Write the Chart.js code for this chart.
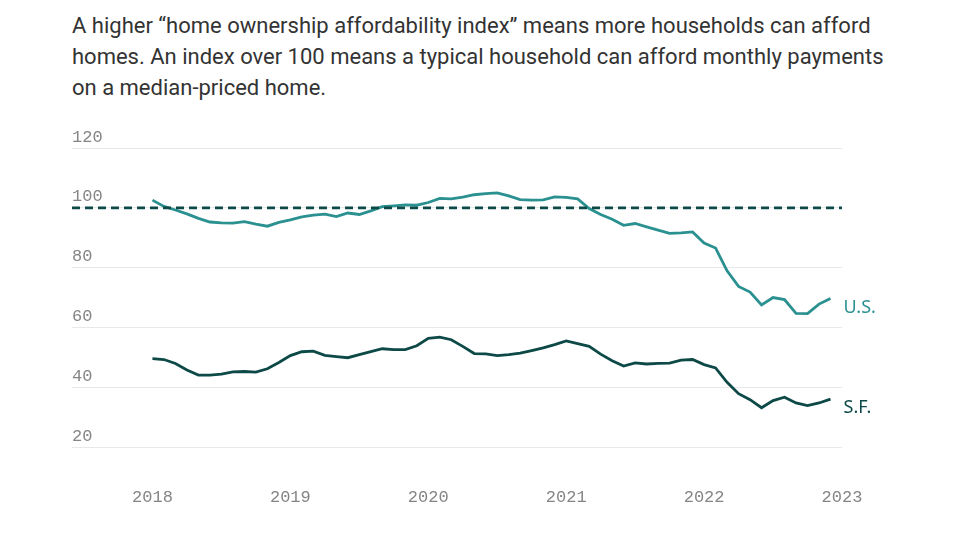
<!DOCTYPE html>
<html>
<head>
<meta charset="utf-8">
<script src="https://cdn.jsdelivr.net/npm/chart.js@4.4.1/dist/chart.umd.min.js"></script>
<style>
  body { margin: 0; width: 960px; height: 540px; overflow: hidden; background: #fff; }
  #sub { position: absolute; left: 72px; top: 10px; width: 880px; font-family: 'Roboto', sans-serif;
         font-size: 22px; line-height: 31px; color: #333; }
  #wrap { position: absolute; left: 0; top: 0; width: 960px; height: 540px; }
</style>
</head>
<body>
<div id="sub">A higher “home ownership affordability index” means more households can afford<br>homes. An index over 100 means a typical household can afford monthly payments<br>on a median-priced home.</div>
<div id="wrap"><canvas id="grafica"></canvas></div>
<script>
  // monthly, Jan 2018 - Dec 2022
  const meses = [
    '2018-01','2018-02','2018-03','2018-04','2018-05','2018-06','2018-07','2018-08','2018-09','2018-10','2018-11','2018-12',
    '2019-01','2019-02','2019-03','2019-04','2019-05','2019-06','2019-07','2019-08','2019-09','2019-10','2019-11','2019-12',
    '2020-01','2020-02','2020-03','2020-04','2020-05','2020-06','2020-07','2020-08','2020-09','2020-10','2020-11','2020-12',
    '2021-01','2021-02','2021-03','2021-04','2021-05','2021-06','2021-07','2021-08','2021-09','2021-10','2021-11','2021-12',
    '2022-01','2022-02','2022-03','2022-04','2022-05','2022-06','2022-07','2022-08','2022-09','2022-10','2022-11','2022-12'
  ];
  const usValues = [
    102.6, 100.5, 99.3, 98.0, 96.5, 95.3, 95.0, 94.9, 95.4, 94.6, 93.9, 95.2,
    96.0, 97.0, 97.6, 97.9, 97.1, 98.3, 97.8, 99.0, 100.4, 100.7, 101.0, 100.9,
    101.8, 103.2, 103.0, 103.6, 104.4, 104.8, 105.0, 104.0, 102.8, 102.6, 102.7, 103.7,
    103.5, 103.0, 99.8, 97.8, 96.2, 94.2, 94.8, 93.7, 92.6, 91.5, 91.7, 92.0,
    88.3, 86.6, 79.0, 73.8, 71.9, 67.6, 70.1, 69.4, 64.8, 64.7, 67.9, 69.8
  ];
  const sfValues = [
    49.7, 49.4, 48.1, 45.9, 44.2, 44.2, 44.5, 45.3, 45.4, 45.2, 46.3, 48.4,
    50.7, 52.0, 52.2, 50.8, 50.4, 50.0, 51.0, 52.0, 53.0, 52.7, 52.7, 54.0,
    56.5, 56.9, 56.0, 53.8, 51.4, 51.3, 50.7, 51.0, 51.5, 52.4, 53.3, 54.4,
    55.6, 54.7, 53.8, 51.2, 49.0, 47.2, 48.3, 47.9, 48.1, 48.2, 49.2, 49.4,
    47.7, 46.6, 41.8, 38.0, 36.0, 33.3, 35.7, 36.8, 34.9, 34.0, 34.9, 36.2
  ];
  const tickLabels = ['2018', '2019', '2020', '2021', '2022', '2023'];
  const yTicks = [20, 40, 60, 80, 100, 120];
  const umbral = 100;

  const colorUS = '#2a9190';
  const colorSF = '#0d4947';

  function indiceMes(m) {
    const [a, mm] = m.split('-').map(Number);
    return (a - 2018) * 12 + (mm - 1);
  }
  const xs = meses.map(indiceMes);
  const xMin = -7, xMax = 60;

  const etiquetas = {
    id: 'etiquetas',
    afterDatasetsDraw(chart) {
      const ctx = chart.ctx;
      ctx.save();
      ctx.font = '18px "Noto Sans", sans-serif';
      ctx.textBaseline = 'middle';
      ctx.textAlign = 'left';
      chart.data.datasets.forEach((ds, i) => {
        if (!ds.etiqueta) return;
        const pts = chart.getDatasetMeta(i).data;
        const p = pts[pts.length - 1];
        ctx.fillStyle = ds.borderColor;
        ctx.fillText(ds.etiqueta, p.x + 13, p.y + 9);
      });
      ctx.restore();
    }
  };

  const ctx = document.getElementById('grafica').getContext('2d');
  new Chart(ctx, {
    type: 'line',
    data: {
      datasets: [
        {
          label: 'Umbral',
          data: [{ x: xMin, y: umbral }, { x: xMax, y: umbral }],
          borderColor: colorSF,
          borderWidth: 2.8,
          borderDash: [8, 5],
          pointRadius: 0
        },
        {
          label: 'U.S.',
          etiqueta: 'U.S.',
          data: xs.map((x, i) => ({ x, y: usValues[i] })),
          borderColor: colorUS,
          borderWidth: 2.8,
          pointRadius: 0,
          tension: 0
        },
        {
          label: 'S.F.',
          etiqueta: 'S.F.',
          data: xs.map((x, i) => ({ x, y: sfValues[i] })),
          borderColor: colorSF,
          borderWidth: 2.8,
          pointRadius: 0,
          tension: 0
        }
      ]
    },
    options: {
      responsive: true,
      maintainAspectRatio: false,
      animation: false,
      layout: { padding: { left: 72, right: 118, top: 148, bottom: 0 } },
      plugins: { legend: { display: false }, tooltip: { enabled: false } },
      scales: {
        x: {
          type: 'linear',
          min: xMin,
          max: xMax,
          afterBuildTicks: axis => { axis.ticks = tickLabels.map((t, i) => ({ value: i * 12 })); },
          ticks: {
            callback: (v, i) => tickLabels[i],
            padding: 32,
            maxRotation: 0,
            autoSkip: false,
            font: { family: '"Liberation Mono", monospace', size: 17 },
            color: '#858585'
          },
          grid: { display: false },
          border: { display: false }
        },
        y: {
          min: 20,
          max: 120,
          afterBuildTicks: axis => { axis.ticks = yTicks.map(v => ({ value: v })); },
          ticks: {
            mirror: true,
            padding: 0,
            labelOffset: -11,
            font: { family: '"Liberation Mono", monospace', size: 17 },
            color: '#858585'
          },
          grid: { color: '#e9e9e9', drawTicks: false },
          border: { display: false }
        }
      }
    },
    plugins: [etiquetas]
  });
</script>
</body>
</html>
